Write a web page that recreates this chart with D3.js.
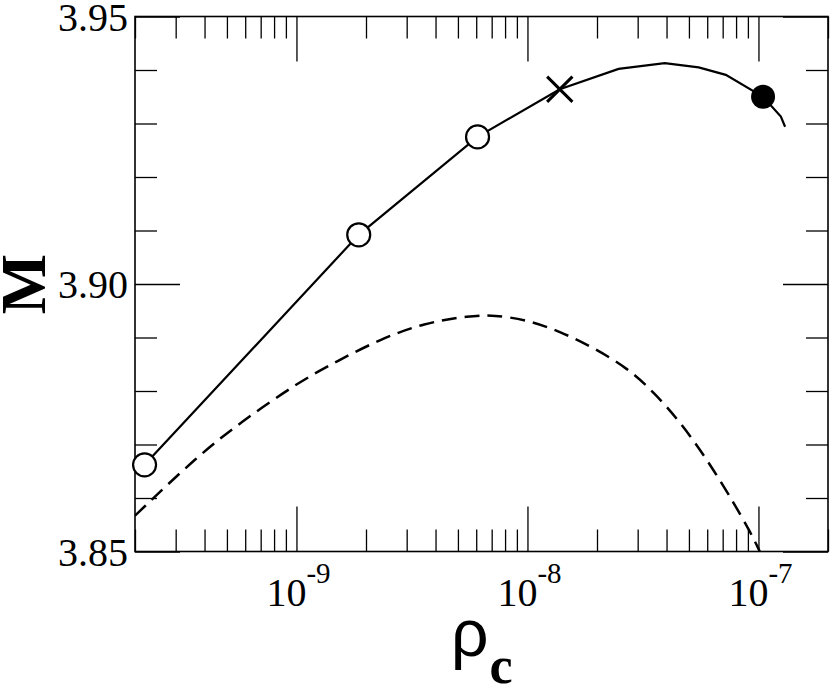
<!DOCTYPE html>
<html>
<head>
<meta charset="utf-8">
<script src="https://cdn.jsdelivr.net/npm/d3@7"></script>
<style>
  body { margin: 0; background: #fff; }
  svg { display: block; }
</style>
</head>
<body>
<div class="chart"></div>
<script>
// solid sequence (rho_c, M)
const solidRho = [2.20e-10, 1.86e-9, 6.08e-9, 1.38e-8, 2.48e-8, 3.93e-8, 5.51e-8, 7.22e-8, 1.047e-7, 1.25e-7, 1.304e-7];
const solidM = [3.8662, 3.9092, 3.9275, 3.9364, 3.9402, 3.9413, 3.9405, 3.9391, 3.9350, 3.9313, 3.9294];

// markers on the solid sequence
const openRho = [2.20e-10, 1.86e-9, 6.08e-9];
const openM = [3.8662, 3.9092, 3.9275];
const crossRho = [1.38e-8];
const crossM = [3.9364];
const filledRho = [1.047e-7];
const filledM = [3.9350];

// dashed sequence
const dashRho = [2.0e-10, 3.72e-10, 5.72e-10, 1.007e-9, 1.50e-9, 2.31e-9, 3.55e-9, 5.67e-9, 7.14e-9, 1.0e-8, 1.39e-8, 1.93e-8, 2.71e-8, 3.52e-8, 4.61e-8, 6.01e-8, 7.82e-8, 9.26e-8, 1.013e-7];
const dashM = [3.8567, 3.8678, 3.8741, 3.8815, 3.8856, 3.8897, 3.8927, 3.8941, 3.8942, 3.8933, 3.8911, 3.8881, 3.8843, 3.8798, 3.8741, 3.8671, 3.8591, 3.8535, 3.8500];

// tick labels
const xMajor = [1e-9, 1e-8, 1e-7];
const xMajorExp = ["-9", "-8", "-7"];
const yMajor = [3.85, 3.90, 3.95];
const yMajorLabels = ["3.85", "3.90", "3.95"];
const yMinor = [3.86, 3.87, 3.88, 3.89, 3.91, 3.92, 3.93, 3.94];

var margin = { top: 16.5, right: 2, bottom: 134.5, left: 135 };
const width = 830 - margin.left - margin.right;
const height = 686 - margin.top - margin.bottom;

var svg = d3
  .select(".chart")
  .append("svg")
  .attr("width", 830)
  .attr("height", 686)
  .append("g")
  .attr("transform", "translate(" + margin.left + "," + margin.top + ")");

// ---------------------------//
//       AXIS  AND SCALE      //
// ---------------------------//

var x = d3.scaleLog().domain([2e-10, 2e-7]).range([0, width]);
var y = d3.scaleLinear().domain([3.85, 3.95]).range([height, 0]);

var isMajor = (d) => Math.abs(Math.log10(d) - Math.round(Math.log10(d))) < 1e-6;
var xMinor = x.ticks().filter((d) => !isMajor(d));

function tickAxis(axis, values, size) {
  return axis.tickValues(values).tickSize(size).tickFormat("");
}

// bottom + top, minor and major (inward)
svg.append("g").attr("class", "ax").attr("transform", "translate(0," + height + ")")
  .call(tickAxis(d3.axisBottom(x), xMinor, -22));
svg.append("g").attr("class", "ax").attr("transform", "translate(0," + height + ")")
  .call(tickAxis(d3.axisBottom(x), xMajor, -45));
svg.append("g").attr("class", "ax")
  .call(tickAxis(d3.axisTop(x), xMinor, -22));
svg.append("g").attr("class", "ax")
  .call(tickAxis(d3.axisTop(x), xMajor, -45));

// left + right
svg.append("g").attr("class", "ax")
  .call(tickAxis(d3.axisLeft(y), yMinor, -22));
svg.append("g").attr("class", "ax")
  .call(tickAxis(d3.axisLeft(y), yMajor, -45));
svg.append("g").attr("class", "ax").attr("transform", "translate(" + width + ",0)")
  .call(tickAxis(d3.axisRight(y), yMinor, -22));
svg.append("g").attr("class", "ax").attr("transform", "translate(" + width + ",0)")
  .call(tickAxis(d3.axisRight(y), yMajor, -45));

svg.selectAll(".ax .domain").remove();
svg.selectAll(".ax line").attr("stroke", "#000").attr("stroke-width", 1.3);

// frame
svg.append("rect")
  .attr("width", width)
  .attr("height", height)
  .attr("fill", "none")
  .attr("stroke", "#000")
  .attr("stroke-width", 1.6);

// y tick labels
svg.selectAll("ylab")
  .data(yMajor)
  .enter()
  .append("text")
  .attr("x", -7)
  .attr("y", (d) => y(d))
  .attr("dy", "0.36em")
  .attr("text-anchor", "end")
  .style("font-family", "'Liberation Serif', 'Times New Roman', serif")
  .style("font-size", "40px")
  .text((d, i) => yMajorLabels[i]);

// x tick labels 10^n
var xl = svg.selectAll("xlab")
  .data(xMajor)
  .enter()
  .append("text")
  .attr("x", (d) => x(d) + 2)
  .attr("y", height + 54)
  .attr("text-anchor", "middle")
  .style("font-family", "'Liberation Serif', 'Times New Roman', serif")
  .style("font-size", "40px");
xl.append("tspan").text("10");
xl.append("tspan")
  .attr("dy", -23)
  .style("font-size", "29px")
  .text((d, i) => xMajorExp[i]);

// axis titles
var xt = svg.append("text")
  .attr("x", 316)
  .attr("y", 639)
  .style("font-family", "'Liberation Sans', Arial, sans-serif")
  .style("font-size", "66px")
  .text("ρ");
xt.append("tspan")
  .attr("dy", 27)
  .attr("dx", 1)
  .style("font-family", "'Liberation Serif', 'Times New Roman', serif")
  .style("font-weight", "bold")
  .style("font-size", "52px")
  .text("c");

svg.append("text")
  .attr("transform", "translate(" + (45 - margin.left) + "," + (height / 2) + ") rotate(-90)")
  .attr("text-anchor", "middle")
  .style("font-family", "'Liberation Serif', 'Times New Roman', serif")
  .style("font-weight", "bold")
  .style("font-size", "64px")
  .text("M");

// ---------------------------//
//       LINES                //
// ---------------------------//

svg.append("clipPath").attr("id", "plotclip")
  .append("rect").attr("width", width).attr("height", height);

var line = d3.line()
  .x((d) => x(d[0]))
  .y((d) => y(d[1]));

svg.append("path")
  .datum(d3.zip(dashRho, dashM))
  .attr("clip-path", "url(#plotclip)")
  .attr("fill", "none")
  .attr("stroke", "#000")
  .attr("stroke-width", 2.5)
  .attr("stroke-dasharray", "15,8")
  .attr("d", line.curve(d3.curveBasis));

svg.append("path")
  .datum(d3.zip(solidRho, solidM))
  .attr("fill", "none")
  .attr("stroke", "#000")
  .attr("stroke-width", 2.2)
  .attr("d", line.curve(d3.curveLinear));

// ---------------------------//
//       MARKERS              //
// ---------------------------//

svg.append("g")
  .selectAll("open")
  .data(d3.zip(openRho, openM))
  .enter()
  .append("circle")
  .attr("cx", (d) => x(d[0]))
  .attr("cy", (d) => y(d[1]))
  .attr("r", 11.5)
  .attr("fill", "#fff")
  .attr("stroke", "#000")
  .attr("stroke-width", 2.2);

svg.append("g")
  .selectAll("filled")
  .data(d3.zip(filledRho, filledM))
  .enter()
  .append("circle")
  .attr("cx", (d) => x(d[0]))
  .attr("cy", (d) => y(d[1]))
  .attr("r", 12)
  .attr("fill", "#000");

var cross = d3.symbol().type(d3.symbolX).size(420);
svg.append("g")
  .selectAll("cross")
  .data(d3.zip(crossRho, crossM))
  .enter()
  .append("path")
  .attr("transform", (d) => "translate(" + x(d[0]) + "," + y(d[1]) + ")")
  .attr("d", cross)
  .attr("fill", "none")
  .attr("stroke", "#000")
  .attr("stroke-width", 3);
</script>
</body>
</html>
